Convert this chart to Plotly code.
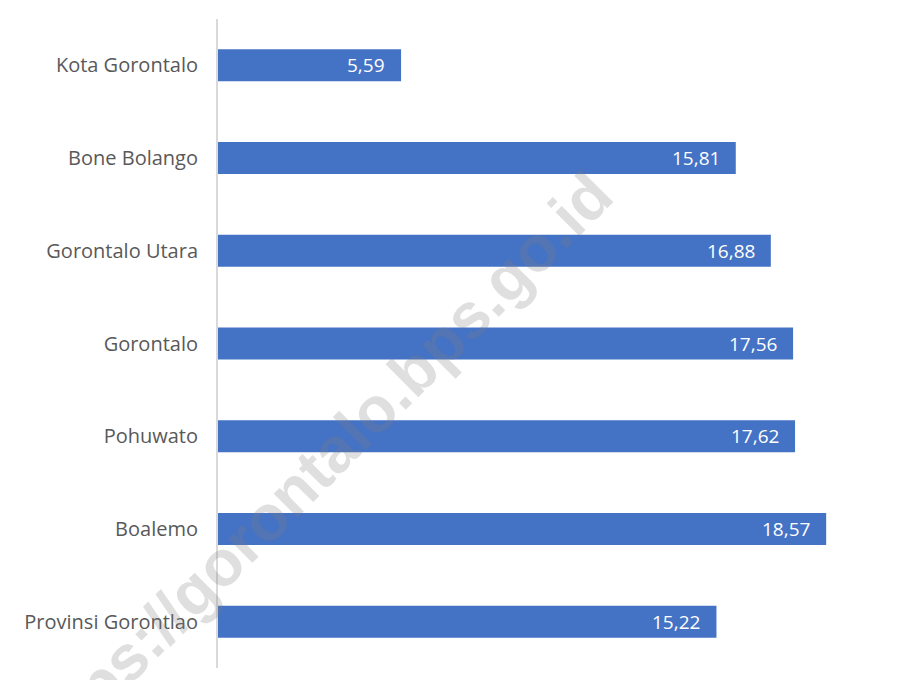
import plotly.graph_objects as go

categories = ["Kota Gorontalo", "Bone Bolango", "Gorontalo Utara", "Gorontalo",
              "Pohuwato", "Boalemo", "Provinsi Gorontlao"]
values = [5.59, 15.81, 16.88, 17.56, 17.62, 18.57, 15.22]
value_labels = [f"{v:.2f}".replace(".", ",") for v in values]
watermark = "https://gorontalo.bps.go.id"

FONT = "Open Sans"
BAR = "#4472C4"

fig = go.Figure()
fig.add_trace(go.Bar(
    x=values, y=categories, orientation="h",
    marker=dict(color=BAR, line=dict(width=0)),
    hoverinfo="skip",
))

# semi-transparent watermark over the chart
fig.add_annotation(x=0.147, y=0.305, xref="paper", yref="paper", text=watermark,
                   showarrow=False, textangle=-45, xanchor="center", yanchor="middle",
                   font=dict(family="Liberation Sans", size=64, weight="bold",
                             color="rgba(128,128,128,0.25)"))

for c, v, t in zip(categories, values, value_labels):
    fig.add_annotation(x=v, y=c, xref="x", yref="y", text=t, showarrow=False,
                       xanchor="right", xshift=-14,
                       font=dict(family=FONT, size=19, color="white"))

fig.update_layout(
    width=889, height=672,
    margin=dict(l=210, r=24, t=11, b=12),
    paper_bgcolor="white", plot_bgcolor="rgba(0,0,0,0)",
    showlegend=False, bargap=0.655,
    font=dict(family=FONT, size=20, color="#595959"),
    xaxis=dict(range=[0, 20], showgrid=False, zeroline=False, showticklabels=False,
               showline=False, ticks=""),
    yaxis=dict(autorange="reversed", showgrid=False, zeroline=False,
               showline=True, linecolor="#D9D9D9", linewidth=2,
               ticks="", ticklabelstandoff=14,
               tickfont=dict(family=FONT, size=20, color="#595959")),
)

fig.write_html("out.html")
